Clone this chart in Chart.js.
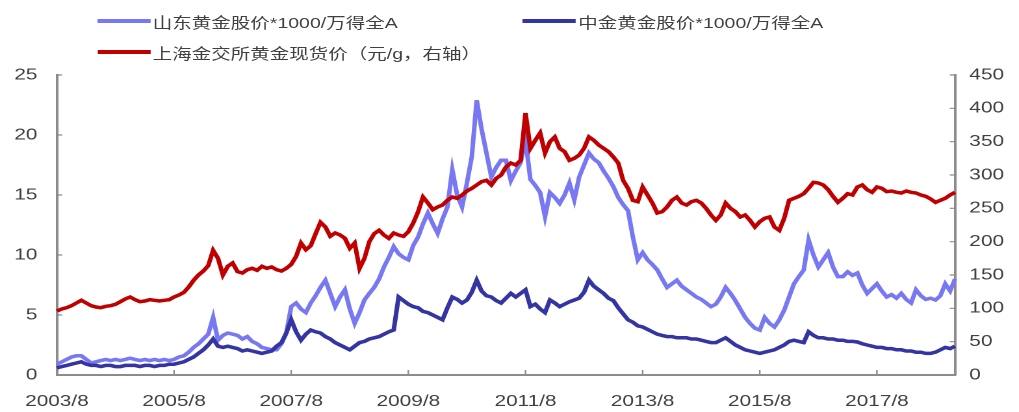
<!DOCTYPE html>
<html>
<head>
<meta charset="utf-8">
<script src="https://cdn.jsdelivr.net/npm/chart.js@4.4.0/dist/chart.umd.min.js"></script>
<style>
    body { margin: 0; background: #fff; overflow: hidden; }
    /* chart is laid out narrow and stretched sideways to the page width */
    #wrap { position: relative; width: 784px; height: 412px; transform: scaleX(1.2997); transform-origin: 0 0; }
    #chart { position: absolute; left: 0; top: 0; }
    #legend { position: absolute; left: 0; top: 0; font: 15px "Liberation Sans", "Noto Sans CJK SC", sans-serif; color: #404040; }
    .item { position: absolute; height: 20px; display: flex; align-items: center; white-space: nowrap; }
    .swatch { width: 41px; height: 4px; margin-right: 2px; }
</style>
</head>
<body>
<div id="wrap">
    <canvas id="chart" width="784" height="412"></canvas>
    <div id="legend"></div>
</div>
<script>
// monthly, 2003/8 .. 2018/12
const startYear = 2003;
const startMonth = 8;

const tickLabels = ['2003/8', '2005/8', '2007/8', '2009/8', '2011/8', '2013/8', '2015/8', '2017/8'];

// 山东黄金股价*1000/万得全A
const sdgd = [
    0.9, 1.1, 1.3, 1.5, 1.6,
    1.6, 1.3, 1.0, 1.1, 1.2, 1.3, 1.2, 1.3, 1.2, 1.3, 1.4, 1.3,
    1.2, 1.3, 1.2, 1.3, 1.2, 1.3, 1.2, 1.3, 1.5, 1.6, 1.9, 2.3,
    2.6, 3.0, 3.4, 4.8, 2.9, 3.3, 3.5, 3.4, 3.3, 3.0, 3.2, 2.8,
    2.6, 2.3, 2.2, 2.1, 2.1, 2.6, 3.5, 5.7, 6.0, 5.5, 5.2, 6.0,
    6.6, 7.3, 7.9, 6.8, 5.7, 6.5, 7.1, 5.5, 4.3, 5.2, 6.25, 6.8,
    7.3, 8.0, 9.0, 9.8, 10.7, 10.1, 9.8, 9.6, 10.8, 11.5, 12.6, 13.5,
    12.6, 11.8, 13.0, 14.0, 17.1, 15.0, 14.0, 16.0, 18.2, 22.9, 20.5, 18.5,
    16.5, 17.3, 17.9, 17.9, 16.2, 17.0, 17.7, 19.6, 16.3, 15.8, 15.2, 13.2,
    15.2, 14.8, 14.3, 15.0, 16.0, 14.6, 16.5, 17.5, 18.5, 18.0, 17.7, 17.0,
    16.4, 15.7, 14.8, 14.2, 13.7, 11.5, 9.6, 10.2, 9.6, 9.2, 8.75, 8.0,
    7.3, 7.6, 7.9, 7.4, 7.1, 6.8, 6.5, 6.3, 6.0, 5.7, 5.9, 6.5,
    7.3, 6.8, 6.2, 5.5, 4.8, 4.3, 3.9, 3.75, 4.8, 4.3, 4.0, 4.6,
    5.4, 6.5, 7.6, 8.2, 8.75, 11.25, 10.0, 9.0, 9.6, 10.2, 9.0, 8.2,
    8.2, 8.6, 8.3, 8.5, 7.5, 6.8, 7.2, 7.6, 7.0, 6.5, 6.7, 6.4,
    6.8, 6.3, 6.0, 7.1, 6.6, 6.3, 6.4, 6.25, 6.6, 7.6, 7.0, 8.0
];

// 中金黄金股价*1000/万得全A
const zjgd = [
    0.6, 0.7, 0.8, 0.9, 1.0,
    1.1, 0.9, 0.8, 0.8, 0.7, 0.8, 0.8, 0.7, 0.7, 0.8, 0.8, 0.8,
    0.7, 0.8, 0.8, 0.7, 0.8, 0.8, 0.9, 0.9, 1.0, 1.1, 1.3, 1.5,
    1.8, 2.1, 2.5, 3.0, 2.4, 2.3, 2.4, 2.3, 2.2, 2.0, 2.1, 2.0,
    1.9, 1.8, 1.9, 2.0, 2.4, 2.7, 3.5, 4.6, 3.6, 2.9, 3.4, 3.75,
    3.6, 3.5, 3.2, 3.0, 2.7, 2.5, 2.3, 2.1, 2.4, 2.7, 2.8, 3.0,
    3.1, 3.2, 3.4, 3.6, 3.75, 6.5, 6.2, 5.9, 5.7, 5.6, 5.3, 5.2,
    5.0, 4.8, 4.6, 5.6, 6.5, 6.3, 6.0, 6.25, 6.9, 7.9, 7.0, 6.6,
    6.5, 6.2, 6.0, 6.4, 6.8, 6.5, 6.8, 7.1, 5.7, 5.9, 5.5, 5.2,
    6.25, 6.0, 5.7, 5.9, 6.1, 6.25, 6.4, 6.9, 7.9, 7.4, 7.1, 6.8,
    6.4, 6.2, 5.6, 5.1, 4.6, 4.4, 4.1, 4.0, 3.8, 3.6, 3.4, 3.3,
    3.2, 3.2, 3.1, 3.1, 3.1, 3.0, 3.0, 2.9, 2.8, 2.7, 2.7, 2.9,
    3.1, 2.8, 2.5, 2.3, 2.1, 2.0, 1.9, 1.8, 1.9, 2.0, 2.1, 2.3,
    2.5, 2.8, 2.9, 2.8, 2.7, 3.6, 3.3, 3.1, 3.1, 3.0, 3.0, 2.9,
    2.9, 2.8, 2.8, 2.75, 2.6, 2.5, 2.4, 2.3, 2.3, 2.2, 2.2, 2.1,
    2.1, 2.0, 2.0, 1.9, 1.9, 1.8, 1.8, 1.9, 2.1, 2.3, 2.2, 2.4
];

// 上海金交所黄金现货价, 元/g
const sgePrice = [
    96, 99, 101, 104, 108,
    112, 108, 104, 102, 101, 103, 104, 106, 110, 114, 117, 113,
    110, 111, 113, 112, 111, 112, 113, 117, 120, 124, 132, 142,
    150, 156, 164, 187, 175, 150, 163, 168, 155, 153, 158, 160,
    157, 163, 160, 162, 158, 156, 160, 166, 178, 198, 188, 194,
    212, 229, 222, 208, 213, 210, 205, 190, 198, 160, 175, 200,
    212, 217, 210, 205, 213, 210, 208, 215, 228, 245, 267, 258,
    248, 252, 255, 262, 267, 265, 270, 276, 280, 285, 290, 292,
    285, 295, 300, 312, 318, 315, 322, 393, 340, 352, 363, 333,
    350, 357, 340, 335, 322, 325, 330, 340, 357, 352, 345, 340,
    335, 327, 318, 292, 280, 262, 260, 282, 270, 258, 243, 245,
    252, 262, 267, 258, 255, 260, 262, 258, 250, 240, 232, 240,
    258, 250, 245, 237, 240, 232, 222, 230, 235, 237, 222, 217,
    235, 262, 265, 268, 272, 280, 289, 288, 285, 278, 268, 259,
    265, 272, 270, 282, 285, 278, 274, 282, 280, 275, 276, 274,
    273, 276, 274, 273, 270, 268, 264, 259, 262, 265, 270, 274
];

const months = [];
for (let i = 0; i < sgePrice.length; i++) {
    const t = startYear * 12 + startMonth - 1 + i;
    months.push(Math.floor(t / 12) + '/' + (t % 12 + 1));
}

const axisGray = '#8c8c8c';
const textGray = '#404040';
const tickFont = { family: '"Liberation Sans", Arial, sans-serif', size: 16 };

const series = [
    { label: '山东黄金股价*1000/万得全A', data: sdgd, color: '#7878f2', axis: 'y', order: 2, pos: [74.6, 11] },
    { label: '中金黄金股价*1000/万得全A', data: zjgd, color: '#3434a2', axis: 'y', order: 1, pos: [402, 11] },
    { label: '上海金交所黄金现货价（元/g，右轴）', data: sgePrice, color: '#c00000', axis: 'y1', order: 0, pos: [74.6, 42] }
];

// legend sits in two rows above the plot
const legend = document.getElementById('legend');
series.forEach(s => {
    const item = document.createElement('div');
    item.className = 'item';
    item.style.left = s.pos[0] + 'px';
    item.style.top = s.pos[1] + 'px';
    const sw = document.createElement('span');
    sw.className = 'swatch';
    sw.style.background = s.color;
    item.appendChild(sw);
    item.appendChild(document.createTextNode(s.label));
    legend.appendChild(item);
});

// small tick marks pointing into the plot
const innerTicks = {
    id: 'innerTicks',
    afterDraw(chart) {
        const { ctx, scales: { x, y, y1 } } = chart;
        ctx.save();
        ctx.strokeStyle = axisGray;
        ctx.lineWidth = 1.2;
        ctx.beginPath();
        y.ticks.forEach(t => {
            const py = y.getPixelForValue(t.value);
            ctx.moveTo(x.left, py);
            ctx.lineTo(x.left + 4, py);
        });
        y1.ticks.forEach(t => {
            const py = y1.getPixelForValue(t.value);
            ctx.moveTo(x.right, py);
            ctx.lineTo(x.right - 4, py);
        });
        months.forEach((m, i) => {
            if (!tickLabels.includes(m) || i === 0) return;
            const px = x.getPixelForValue(i);
            ctx.moveTo(px, y.bottom);
            ctx.lineTo(px, y.bottom - 5);
        });
        ctx.stroke();
        ctx.restore();
    }
};

new Chart(document.getElementById('chart'), {
    type: 'line',
    data: {
        labels: months,
        datasets: series.map(s => ({
            label: s.label,
            data: s.data,
            yAxisID: s.axis,
            order: s.order,
            borderColor: s.color,
            backgroundColor: s.color,
            borderWidth: 3.5,
            pointRadius: 0,
            tension: 0
        }))
    },
    options: {
        responsive: false,
        animation: false,
        devicePixelRatio: 2,
        layout: { padding: { top: 75, left: 0, right: 0, bottom: 0 } },
        plugins: {
            legend: { display: false },
            tooltip: { enabled: false }
        },
        scales: {
            x: {
                offset: false,
                grid: { display: false, drawTicks: false },
                border: { display: true, color: axisGray, width: 2 },
                ticks: {
                    autoSkip: false,
                    maxRotation: 0,
                    padding: 17,
                    color: textGray,
                    font: tickFont,
                    callback: function (v) {
                        const m = this.getLabelForValue(v);
                        return tickLabels.includes(m) ? m : '';
                    }
                },
                afterFit: scale => { scale.height = 37; }
            },
            y: {
                position: 'left',
                min: 0,
                max: 25,
                grid: { display: false, drawTicks: false },
                border: { display: true, color: axisGray, width: 2 },
                ticks: { stepSize: 5, padding: 15, color: textGray, font: tickFont },
                afterFit: scale => { scale.width = 43.8; }
            },
            y1: {
                position: 'right',
                min: 0,
                max: 450,
                grid: { display: false, drawTicks: false },
                border: { display: true, color: axisGray, width: 2 },
                ticks: { stepSize: 50, padding: 11, color: textGray, font: tickFont },
                afterFit: scale => { scale.width = 49.2; }
            }
        }
    },
    plugins: [innerTicks]
});
</script>
</body>
</html>
